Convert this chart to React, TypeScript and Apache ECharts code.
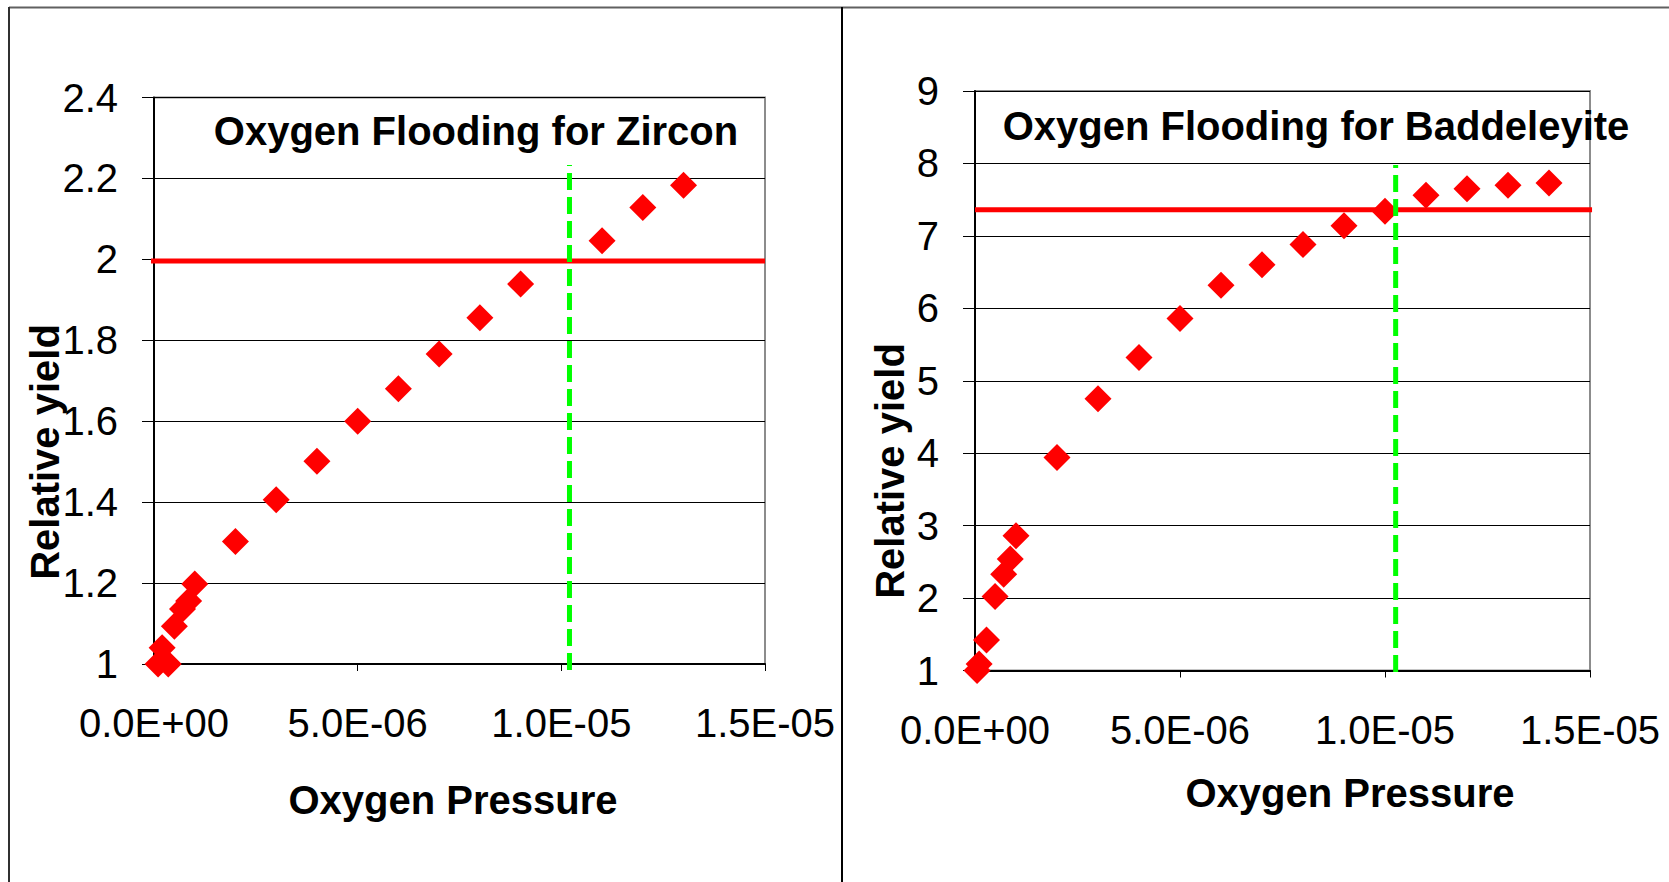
import React, { useEffect, useRef } from "react";
import * as echarts from "echarts";

// Zircon panel data (oxygen pressure, relative yield)
const zirconPressure = [1.0e-7, 2.0e-7, 3.5e-7, 5.0e-7, 7.0e-7, 8.5e-7, 1.0e-6, 2.0e-6, 3.0e-6, 4.0e-6, 5.0e-6, 6.0e-6, 7.0e-6, 8.0e-6, 9.0e-6, 1.1e-5, 1.2e-5, 1.3e-5];
const zirconYield = [1.0, 1.04, 1.0, 1.093, 1.136, 1.156, 1.198, 1.303, 1.406, 1.501, 1.6, 1.68, 1.766, 1.856, 1.939, 2.046, 2.128, 2.183];

// Baddeleyite panel data
const baddPressure = [5.0e-8, 1.0e-7, 2.8e-7, 4.9e-7, 7.0e-7, 8.6e-7, 1.0e-6, 2.0e-6, 3.0e-6, 4.0e-6, 5.0e-6, 6.0e-6, 7.0e-6, 8.0e-6, 9.0e-6, 1.0e-5, 1.1e-5, 1.2e-5, 1.3e-5, 1.4e-5];
const baddYield = [1.0, 1.09, 1.42, 2.02, 2.33, 2.54, 2.86, 3.94, 4.75, 5.32, 5.86, 6.32, 6.6, 6.88, 7.14, 7.34, 7.56, 7.65, 7.7, 7.73];

// Reference lines
const zirconRedLevel = 1.996;
const zirconRedRange = [-1.5e-7, 1.5e-5];
const zirconGreenX = 1.02e-5;
const zirconGreenRange = [0.985, 2.233];

const baddRedLevel = 7.36;
const baddRedRange = [0, 1.505e-5];
const baddGreenX = 1.026e-5;
const baddGreenRange = [0.98, 7.98];

// Axes
const xMin = 0;
const xMax = 1.5e-5;
const xInterval = 5e-6;
const zirconYMin = 1;
const zirconYMax = 2.4;
const zirconYInterval = 0.2;
const baddYMin = 1;
const baddYMax = 9;
const baddYInterval = 1;

const titles = ["Oxygen Flooding for Zircon", "Oxygen Flooding for Baddeleyite"];
const xName = "Oxygen Pressure";
const yName = "Relative yield";

const FONT = "'Liberation Sans', Arial, Helvetica, sans-serif";

function sci(v: number): string {
  if (Math.abs(v) < 1e-20) return "0.0E+00";
  let exp = Math.floor(Math.log10(Math.abs(v)) + 1e-9);
  let mant = v / Math.pow(10, exp);
  if (Math.round(mant * 10) / 10 >= 10) {
    exp += 1;
    mant = v / Math.pow(10, exp);
  }
  const sign = exp < 0 ? "-" : "+";
  const e = Math.abs(exp);
  return mant.toFixed(1) + "E" + sign + (e < 10 ? "0" + e : String(e));
}

function xAxisCfg(gridIndex: number) {
  return {
    type: "value",
    gridIndex,
    min: xMin,
    max: xMax,
    interval: xInterval,
    axisLine: { show: true, onZero: false, lineStyle: { color: "#000", width: 2 } },
    axisTick: { show: true, inside: false, length: 7, lineStyle: { color: "#000", width: 1 } },
    axisLabel: {
      show: true,
      margin: 39,
      color: "#000",
      fontSize: 40,
      fontFamily: FONT,
      formatter: (v: number) => sci(v),
      showMinLabel: true,
      showMaxLabel: true,
    },
    splitLine: { show: false },
  };
}

function yAxisCfg(gridIndex: number, min: number, max: number, interval: number) {
  return {
    type: "value",
    gridIndex,
    min,
    max,
    interval,
    axisLine: { show: true, onZero: false, lineStyle: { color: "#000", width: 2 } },
    axisTick: { show: true, inside: false, length: 12, lineStyle: { color: "#000", width: 1 } },
    axisLabel: {
      show: true,
      margin: 36,
      color: "#000",
      fontSize: 40,
      fontFamily: FONT,
      formatter: (v: number) => String(Number(v.toFixed(1))),
    },
    splitLine: { show: true, lineStyle: { color: "#000", width: 1 } },
  };
}

export default function App() {
  const ref = useRef<HTMLDivElement>(null);

  useEffect(() => {
    if (!ref.current) return;
    const chart = echarts.init(ref.current, null, { renderer: "svg" });

    const zirconPts = zirconPressure.map((x, i) => [x, zirconYield[i]]);
    const baddPts = baddPressure.map((x, i) => [x, baddYield[i]]);

    const option: any = {
      animation: false,
      backgroundColor: "#fff",
      grid: [
        { left: 154, top: 97.5, width: 611, height: 566.5, show: true, borderColor: "#8c8c8c", borderWidth: 2, backgroundColor: "transparent" },
        { left: 975, top: 91, width: 615, height: 579.5, show: true, borderColor: "#8c8c8c", borderWidth: 2, backgroundColor: "transparent" },
      ],
      xAxis: [xAxisCfg(0), xAxisCfg(1)],
      yAxis: [
        yAxisCfg(0, zirconYMin, zirconYMax, zirconYInterval),
        yAxisCfg(1, baddYMin, baddYMax, baddYInterval),
      ],
      series: [
        {
          type: "line",
          xAxisIndex: 0,
          yAxisIndex: 0,
          clip: false,
          symbol: "none",
          z: 2,
          lineStyle: { color: "#ff0000", width: 5 },
          data: [[zirconRedRange[0], zirconRedLevel], [zirconRedRange[1], zirconRedLevel]],
        },
        {
          type: "scatter",
          xAxisIndex: 0,
          yAxisIndex: 0,
          symbol: "diamond",
          symbolSize: 27,
          clip: false,
          z: 3,
          itemStyle: { color: "#ff0000", opacity: 1 },
          data: zirconPts,
        },
        {
          type: "line",
          xAxisIndex: 0,
          yAxisIndex: 0,
          clip: false,
          symbol: "none",
          z: 4,
          lineStyle: { color: "#00ff00", width: 5, type: [17, 7] },
          data: [[zirconGreenX, zirconGreenRange[0]], [zirconGreenX, zirconGreenRange[1]]],
        },
        {
          type: "line",
          xAxisIndex: 1,
          yAxisIndex: 1,
          clip: false,
          symbol: "none",
          z: 2,
          lineStyle: { color: "#ff0000", width: 5 },
          data: [[baddRedRange[0], baddRedLevel], [baddRedRange[1], baddRedLevel]],
        },
        {
          type: "scatter",
          xAxisIndex: 1,
          yAxisIndex: 1,
          symbol: "diamond",
          symbolSize: 27,
          clip: false,
          z: 3,
          itemStyle: { color: "#ff0000", opacity: 1 },
          data: baddPts,
        },
        {
          type: "line",
          xAxisIndex: 1,
          yAxisIndex: 1,
          clip: false,
          symbol: "none",
          z: 4,
          lineStyle: { color: "#00ff00", width: 5, type: [17, 7] },
          data: [[baddGreenX, baddGreenRange[0]], [baddGreenX, baddGreenRange[1]]],
        },
      ],
      graphic: [
        { type: "line", shape: { x1: 9, y1: 7.5, x2: 1669, y2: 7.5 }, style: { stroke: "#606060", lineWidth: 2 } },
        { type: "line", shape: { x1: 9, y1: 7, x2: 9, y2: 882 }, style: { stroke: "#303030", lineWidth: 2 } },
        { type: "line", shape: { x1: 842, y1: 7, x2: 842, y2: 882 }, style: { stroke: "#000", lineWidth: 2 } },
        {
          type: "text", x: 476, y: 131, z: 10,
          style: { text: titles[0], fill: "#000", font: "bold 40px " + FONT, align: "center", verticalAlign: "middle" },
        },
        {
          type: "text", x: 1316, y: 126, z: 10,
          style: { text: titles[1], fill: "#000", font: "bold 40px " + FONT, align: "center", verticalAlign: "middle" },
        },
        {
          type: "text", x: 453, y: 800, z: 10,
          style: { text: xName, fill: "#000", font: "bold 40px " + FONT, align: "center", verticalAlign: "middle" },
        },
        {
          type: "text", x: 1350, y: 793, z: 10,
          style: { text: xName, fill: "#000", font: "bold 40px " + FONT, align: "center", verticalAlign: "middle" },
        },
        {
          type: "text", x: 45, y: 452, rotation: Math.PI / 2, z: 10,
          style: { text: yName, fill: "#000", font: "bold 40px " + FONT, align: "center", verticalAlign: "middle" },
        },
        {
          type: "text", x: 890, y: 471, rotation: Math.PI / 2, z: 10,
          style: { text: yName, fill: "#000", font: "bold 40px " + FONT, align: "center", verticalAlign: "middle" },
        },
      ],
    };

    chart.setOption(option);
    return () => chart.dispose();
  }, []);

  return (
    <div
      ref={ref}
      style={{ position: "fixed", left: 0, top: 0, width: 1669, height: 882, background: "#fff" }}
    />
  );
}
